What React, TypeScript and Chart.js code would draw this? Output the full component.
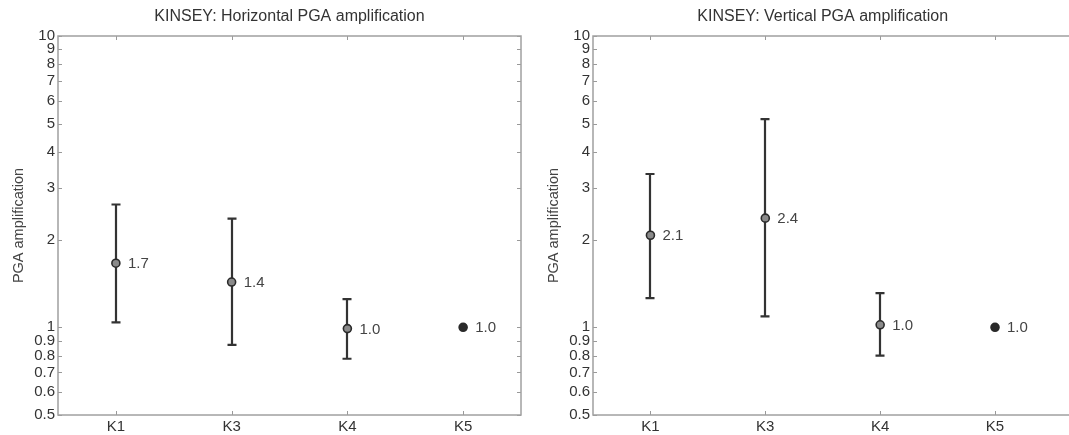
import React, { useEffect, useRef } from "react";
import { Chart, registerables } from "chart.js";

Chart.register(...registerables);

const categories = ["K1", "K3", "K4", "K5"];
const yTickValues = [0.5, 0.6, 0.7, 0.8, 0.9, 1, 2, 3, 4, 5, 6, 7, 8, 9, 10];

const horizontalMean = [1.66, 1.43, 0.99, 1.0];
const horizontalUpper = [2.64, 2.36, 1.25, null];
const horizontalLower = [1.04, 0.87, 0.78, null];

const verticalMean = [2.07, 2.37, 1.02, 1.0];
const verticalUpper = [3.36, 5.18, 1.31, null];
const verticalLower = [1.26, 1.09, 0.8, null];

const FONT = "'Liberation Sans', Arial, Helvetica, sans-serif";

function makeConfig(
  title: string,
  mean: number[],
  upper: (number | null)[],
  lower: (number | null)[],
  xMax: number,
  padRight: number
): any {
  const errorPlugin = {
    id: "errorbars",
    beforeDatasetsDraw(chart: any) {
      const { ctx } = chart;
      const xs = chart.scales.x;
      const ys = chart.scales.y;
      ctx.save();
      ctx.strokeStyle = "#333";
      ctx.lineWidth = 2.2;
      for (let i = 0; i < mean.length; i++) {
        const hi = upper[i];
        const lo = lower[i];
        if (hi == null || lo == null) continue;
        const px = Math.round(xs.getPixelForValue(i + 1));
        const pyHi = ys.getPixelForValue(hi);
        const pyLo = ys.getPixelForValue(lo);
        ctx.beginPath();
        ctx.moveTo(px, pyHi);
        ctx.lineTo(px, pyLo);
        ctx.moveTo(px - 4.5, pyHi);
        ctx.lineTo(px + 4.5, pyHi);
        ctx.moveTo(px - 4.5, pyLo);
        ctx.lineTo(px + 4.5, pyLo);
        ctx.stroke();
      }
      ctx.restore();
    },
    afterDatasetsDraw(chart: any) {
      const { ctx } = chart;
      const xs = chart.scales.x;
      const ys = chart.scales.y;
      ctx.save();
      ctx.fillStyle = "#444";
      ctx.font = `15px ${FONT}`;
      ctx.textAlign = "left";
      ctx.textBaseline = "middle";
      for (let i = 0; i < mean.length; i++) {
        const px = xs.getPixelForValue(i + 1);
        const py = ys.getPixelForValue(mean[i]);
        ctx.fillText(mean[i].toFixed(1), px + 12, py + 1);
      }
      ctx.restore();
    },
    afterDraw(chart: any) {
      const { ctx, chartArea } = chart;
      const { left, right, top, bottom } = chartArea;
      const xs = chart.scales.x;
      const ys = chart.scales.y;
      ctx.save();
      // inner tick marks
      ctx.strokeStyle = "#999";
      ctx.lineWidth = 1;
      ctx.beginPath();
      for (const v of yTickValues) {
        const py = Math.round(ys.getPixelForValue(v)) + 0.5;
        ctx.moveTo(left, py);
        ctx.lineTo(left + 4, py);
        ctx.moveTo(right, py);
        ctx.lineTo(right - 4, py);
      }
      for (let i = 0; i < categories.length; i++) {
        const px = Math.round(xs.getPixelForValue(i + 1)) + 0.5;
        ctx.moveTo(px, bottom);
        ctx.lineTo(px, bottom - 4);
        ctx.moveTo(px, top);
        ctx.lineTo(px, top + 4);
      }
      ctx.stroke();
      // box
      ctx.strokeStyle = "#a0a0a0";
      ctx.lineWidth = 1.5;
      ctx.strokeRect(left, top, right - left, bottom - top);
      // title
      ctx.fillStyle = "#333";
      ctx.font = `16px ${FONT}`;
      ctx.textAlign = "center";
      ctx.textBaseline = "middle";
      ctx.fillText(title, xs.getPixelForValue(2.5), 17);
      ctx.restore();
    },
  };

  return {
    type: "scatter",
    data: {
      datasets: [
        {
          data: mean.map((y, i) => ({ x: i + 1, y })),
          pointRadius: 4,
          pointBorderWidth: 1.6,
          pointBorderColor: "#2a2a2a",
          pointBackgroundColor: mean.map((_, i) => (upper[i] == null ? "#2a2a2a" : "#8a8a8a")),
          showLine: false,
        },
      ],
    },
    options: {
      animation: false,
      responsive: false,
      layout: { padding: { top: 36, right: padRight, left: 0, bottom: 0 } },
      plugins: {
        legend: { display: false },
        tooltip: { enabled: false },
        title: { display: false },
      },
      scales: {
        x: {
          type: "linear",
          min: 0.5,
          max: xMax,
          grid: { display: false, drawTicks: false },
          border: { display: false },
          afterBuildTicks: (s: any) => {
            s.ticks = categories.map((_, i) => ({ value: i + 1 }));
          },
          afterFit: (s: any) => {
            s.height = 20;
          },
          ticks: {
            callback: (v: any) => categories[Number(v) - 1] ?? "",
            font: { family: FONT, size: 15 },
            color: "#333",
            padding: 3,
            autoSkip: false,
            maxRotation: 0,
          },
        },
        y: {
          type: "logarithmic",
          min: 0.5,
          max: 10,
          grid: { display: false, drawTicks: false },
          border: { display: false },
          afterBuildTicks: (s: any) => {
            s.ticks = yTickValues.map((v) => ({ value: v }));
          },
          afterFit: (s: any) => {
            s.width = 58;
          },
          ticks: {
            callback: (v: any) => String(v),
            font: { family: FONT, size: 15 },
            color: "#333",
            padding: 3,
            autoSkip: false,
          },
          title: {
            display: true,
            text: "PGA amplification",
            font: { family: FONT, size: 14.5 },
            color: "#444",
            padding: { top: 10, bottom: 0 },
          },
        },
      },
    },
    plugins: [errorPlugin],
  };
}

function Panel(props: {
  title: string;
  mean: number[];
  upper: (number | null)[];
  lower: (number | null)[];
  left: number;
  width: number;
  xMax: number;
  padRight: number;
}) {
  const ref = useRef<HTMLCanvasElement | null>(null);
  useEffect(() => {
    if (!ref.current) return;
    const chart = new Chart(
      ref.current,
      makeConfig(props.title, props.mean, props.upper, props.lower, props.xMax, props.padRight)
    );
    return () => chart.destroy();
  }, []);
  return (
    <canvas
      ref={ref}
      width={props.width}
      height={435}
      style={{
        position: "absolute",
        left: props.left,
        top: 0,
        width: props.width,
        height: 435,
      }}
    />
  );
}

export default function App() {
  return (
    <div
      style={{
        position: "absolute",
        left: 0,
        top: 0,
        width: 1069,
        height: 435,
        overflow: "hidden",
        background: "#fff",
      }}
    >
      <Panel
        title="KINSEY: Horizontal PGA amplification"
        mean={horizontalMean}
        upper={horizontalUpper}
        lower={horizontalLower}
        left={0}
        width={530}
        xMax={4.5}
        padRight={9}
      />
      <Panel
        title="KINSEY: Vertical PGA amplification"
        mean={verticalMean}
        upper={verticalUpper}
        lower={verticalLower}
        left={535}
        width={600}
        xMax={5.17}
        padRight={0}
      />
    </div>
  );
}
